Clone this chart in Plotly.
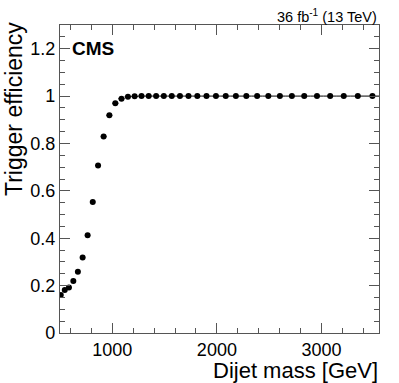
import plotly.graph_objects as go

# dijet mass bin edges (GeV) and trigger efficiency per bin
bin_edges = [489, 526, 565, 606, 649, 693, 740, 788, 838, 890, 944, 1000, 1058,
             1118, 1181, 1246, 1313, 1383, 1455, 1530, 1607, 1687, 1770, 1856,
             1945, 2037, 2132, 2231, 2332, 2438, 2546, 2659, 2775, 2895, 3019,
             3147, 3279, 3416, 3558]
efficiency = [0.160, 0.181, 0.192, 0.220, 0.258, 0.319, 0.413, 0.553, 0.707,
              0.829, 0.919, 0.970, 0.989, 0.997, 0.999, 1.0, 1.0, 1.0, 1.0,
              1.0, 1.0, 1.0, 1.0, 1.0, 1.0, 1.0, 1.0, 1.0, 1.0, 1.0, 1.0, 1.0,
              1.0, 1.0, 1.0, 1.0, 1.0, 1.0]
eff_err = [0.004, 0.004, 0.004, 0.004, 0.004, 0.004, 0.004, 0.004, 0.004,
           0.003, 0.002, 0.002, 0.001, 0.001, 0.001, 0.0, 0.0, 0.0, 0.0, 0.0,
           0.0, 0.0, 0.0, 0.0, 0.0, 0.0, 0.0, 0.0, 0.0, 0.0, 0.001, 0.001,
           0.002, 0.002, 0.003, 0.003, 0.005, 0.007]

centers = [(a + b) / 2 for a, b in zip(bin_edges[:-1], bin_edges[1:])]
half_w = [(b - a) / 2 for a, b in zip(bin_edges[:-1], bin_edges[1:])]

FONT = "Liberation Sans, Arial, sans-serif"

fig = go.Figure()
fig.add_trace(go.Scatter(
    x=centers, y=efficiency, mode="markers",
    marker=dict(color="black", size=6),
    error_x=dict(type="data", array=half_w, color="black", thickness=1, width=0),
    error_y=dict(type="data", array=eff_err, color="black", thickness=1, width=0),
    showlegend=False, cliponaxis=True,
))

axis_common = dict(
    showgrid=False, zeroline=False, showline=True, linecolor="#555", linewidth=1.3,
    mirror="ticks", ticks="inside", ticklen=10, tickcolor="#555", tickwidth=1,
    tickfont=dict(family=FONT, size=18, color="black"),
)
fig.update_xaxes(range=[500, 3550], tickvals=[1000, 2000, 3000],
                 minor=dict(ticks="inside", ticklen=5, dtick=200, tick0=0,
                            tickcolor="#555"),
                 **axis_common)
fig.update_yaxes(range=[0, 1.3], tickvals=[0, 0.2, 0.4, 0.6, 0.8, 1, 1.2],
                 ticktext=["0", "0.2", "0.4", "0.6", "0.8", "1", "1.2"],
                 minor=dict(ticks="inside", ticklen=5, dtick=0.05, tick0=0,
                            tickcolor="#555"),
                 **axis_common)

fig.update_layout(
    width=399, height=383,
    margin=dict(l=60, r=20, t=25, b=50),
    plot_bgcolor="white", paper_bgcolor="white",
    font=dict(family=FONT, color="black"),
    annotations=[
        dict(text="Trigger efficiency", textangle=-90, xref="paper", yref="paper",
             x=0, y=1, xanchor="center", yanchor="top", xshift=-46, yshift=5,
             showarrow=False, font=dict(size=23)),
        dict(text="Dijet mass [GeV]", xref="paper", yref="paper", x=1, y=0,
             xanchor="right", yanchor="top", xshift=1, yshift=-23, showarrow=False,
             font=dict(size=22)),
        dict(text="36 fb<sup>-1</sup> (13 TeV)", xref="paper", yref="paper",
             x=1, y=1, xanchor="right", yanchor="bottom", yshift=-2,
             showarrow=False, font=dict(size=14.5)),
        dict(text="<b>CMS</b>", xref="paper", yref="paper", x=0, y=1,
             xanchor="left", yanchor="top", xshift=10, yshift=-11,
             showarrow=False, font=dict(size=19)),
    ],
)

# drop the default page margin so the figure sits at the window's corner
fig.write_html("out.html", config={"displayModeBar": False},
               post_script="document.body.style.margin='0';")
